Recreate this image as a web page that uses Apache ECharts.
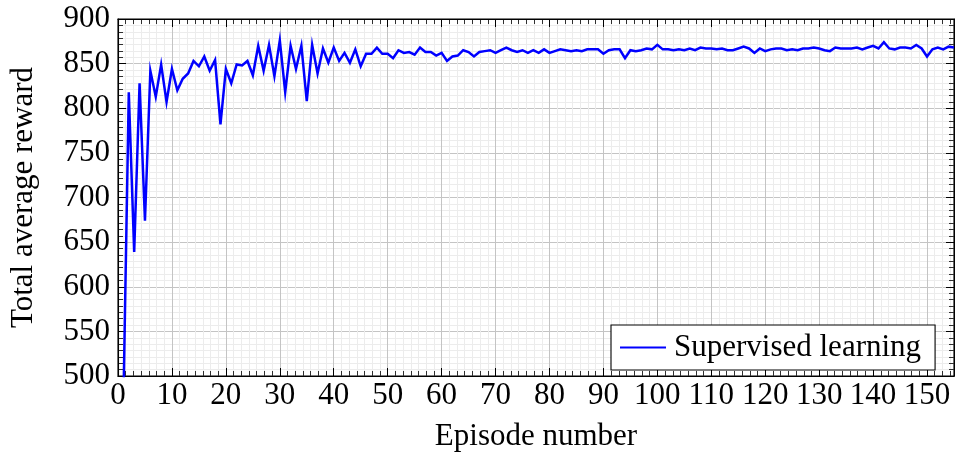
<!DOCTYPE html>
<html>
<head>
<meta charset="utf-8">
<script src="https://cdn.jsdelivr.net/npm/echarts@6/dist/echarts.min.js"></script>
<style>html,body{margin:0;padding:0;background:#fff}#c{width:955px;height:457px}</style>
</head>
<body>
<div id="c"></div>
<script>
// Data
const seriesName = 'Supervised learning';
const firstEpisode = 1;
const rewards = [
  470, 818, 639, 828, 674, 842, 813, 849, 807, 844,
  820, 833, 839, 853, 847, 858, 842, 854, 782, 844,
  828, 849, 848, 853, 837, 870, 842, 871, 836, 876,
  818, 870, 844, 870, 808, 871, 839, 867, 851, 868,
  853, 862, 851, 866, 847, 861, 861, 868, 861, 861,
  856, 865, 862, 863, 860, 868, 863, 863, 859, 862,
  853, 858, 859, 865, 863, 858, 863, 864, 865, 862,
  865, 868, 865, 863, 865, 862, 865, 862, 866, 862,
  864, 866, 865, 864, 865, 864, 866, 866, 866, 861,
  865, 866, 866, 856, 865, 864, 865, 867, 866, 871,
  866, 866, 865, 866, 865, 867, 865, 868, 867, 867,
  866, 867, 865, 865, 867, 869, 867, 862, 867, 864,
  866, 867, 867, 865, 866, 865, 867, 867, 868, 867,
  865, 864, 868, 867, 867, 867, 868, 866, 868, 870,
  867, 874, 867, 866, 868, 868, 867, 871, 867, 858,
  866, 868, 866, 869, 868
];
const xTicks = [0, 10, 20, 30, 40, 50, 60, 70, 80, 90, 100, 110, 120, 130, 140, 150];
const yTicks = [500, 550, 600, 650, 700, 750, 800, 850, 900];
const xLabel = 'Episode number';
const yLabel = 'Total average reward';

const points = rewards.map((v, i) => [firstEpisode + i, v]);
const FONT = 'Liberation Serif';
const FS = 31;

function axisBase(showLabels) {
  return {
    axisLine: { show: true, onZero: false, lineStyle: { color: '#000', width: 1.1 } },
    axisTick: { show: true, inside: true, length: 8, lineStyle: { color: '#000', width: 1 } },
    minorTick: { show: true, splitNumber: 7, length: 5, lineStyle: { color: '#000', width: 0.8 } },
    axisLabel: { show: showLabels, color: '#000', fontFamily: FONT, fontSize: FS },
    splitLine: { show: false },
    minorSplitLine: { show: false }
  };
}

const xMin = xTicks[0], xMax = 155, xInt = xTicks[1] - xTicks[0];
const yMin = yTicks[0], yMax = yTicks[yTicks.length - 1], yInt = yTicks[1] - yTicks[0];

const option = {
  animation: false,
  backgroundColor: '#fff',
  grid: { left: 117, right: 1, top: 19, bottom: 75, show: true, borderColor: '#000', borderWidth: 1.1, backgroundColor: 'transparent' },
  legend: {
    data: [seriesName],
    left: 611, top: 325,
    icon: 'rect',
    backgroundColor: '#fff', borderColor: '#000', borderWidth: 1.1,
    padding: [6, 14, 6, 9],
    itemWidth: 46, itemHeight: 2.2,
    textStyle: { fontFamily: FONT, fontSize: FS, color: '#000', lineHeight: 33, padding: [0, 0, 0, 3] }
  },
  xAxis: [
    Object.assign(axisBase(true), {
      type: 'value', position: 'bottom', min: xMin, max: xMax, interval: xInt,
      name: xLabel, nameLocation: 'middle', nameGap: 45,
      nameTextStyle: { fontFamily: FONT, fontSize: FS, color: '#000' },
      axisLabel: { show: true, color: '#000', fontFamily: FONT, fontSize: FS, margin: 4, showMaxLabel: false },
      splitLine: { show: true, lineStyle: { color: '#c4c4c4', width: 1 } },
      minorSplitLine: { show: true, lineStyle: { color: '#ececec', width: 1 } }
    }),
    Object.assign(axisBase(false), {
      type: 'value', position: 'top', min: xMin, max: xMax, interval: xInt
    })
  ],
  yAxis: [
    Object.assign(axisBase(true), {
      type: 'value', position: 'left', min: yMin, max: yMax, interval: yInt,
      name: yLabel, nameLocation: 'middle', nameGap: 79,
      nameTextStyle: { fontFamily: FONT, fontSize: FS, color: '#000' },
      axisLabel: { show: true, color: '#000', fontFamily: FONT, fontSize: FS, margin: 8 },
      splitLine: { show: true, lineStyle: { color: '#c4c4c4', width: 1 } },
      minorSplitLine: { show: true, lineStyle: { color: '#ececec', width: 1 } }
    }),
    Object.assign(axisBase(false), {
      type: 'value', position: 'right', min: yMin, max: yMax, interval: yInt
    })
  ],
  series: [{
    name: seriesName,
    type: 'line',
    data: points,
    xAxisIndex: 0, yAxisIndex: 0,
    showSymbol: false, symbol: 'none',
    clip: true,
    lineStyle: { color: '#0000ff', width: 2.5, join: 'miter' },
    itemStyle: { color: '#0000ff' },
    z: 5
  }]
};

const chart = echarts.init(document.getElementById('c'), null, { renderer: 'canvas' });
chart.setOption(option);
</script>
</body>
</html>
